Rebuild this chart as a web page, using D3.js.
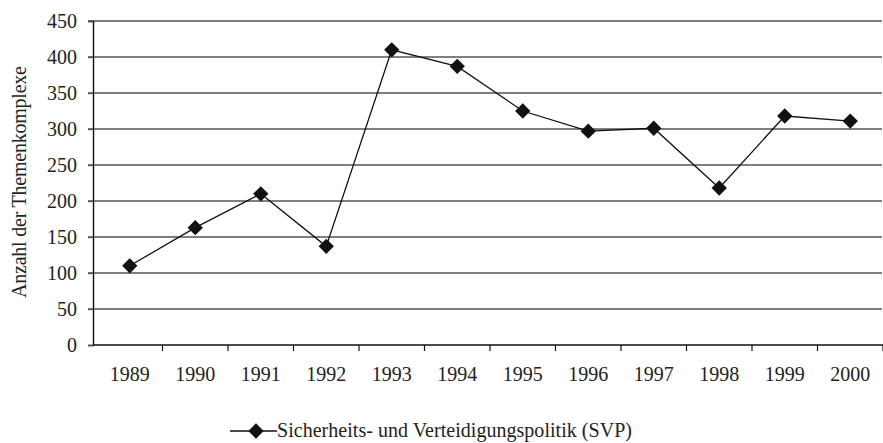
<!DOCTYPE html>
<html>
<head>
<meta charset="utf-8">
<script src="https://cdn.jsdelivr.net/npm/d3@7"></script>
<style>
  body { margin: 0; background: #fff; }
  text { font-family: "Liberation Serif", "DejaVu Serif", serif; fill: #222; }
</style>
</head>
<body>
<script>
var years = ['1989', '1990', '1991', '1992', '1993', '1994', '1995', '1996', '1997', '1998', '1999', '2000'];
var counts = [110, 163, 210, 137, 410, 387, 325, 297, 301, 218, 318, 311];
var yTicks = [0, 50, 100, 150, 200, 250, 300, 350, 400, 450];
var seriesName = 'Sicherheits- und Verteidigungspolitik (SVP)';
var yTitle = 'Anzahl der Themenkomplexe';

var width = 883;
var height = 443;
var axisX = 93;

var svg = d3.select('body').append('svg')
  .attr('width', width)
  .attr('height', height);

var x = d3.scaleBand().domain(years).range([97, 883]);
var y = d3.scaleLinear().domain([0, 450]).range([345, 21]);

// gridlines
svg.append('g').selectAll('line')
  .data(yTicks.slice(1))
  .enter().append('line')
  .attr('x1', axisX - 5)
  .attr('x2', 882)
  .attr('y1', function(d) { return y(d); })
  .attr('y2', function(d) { return y(d); })
  .style('stroke', '#555')
  .style('stroke-width', 1.4);

// y axis
var yAxis = svg.append('g')
  .attr('transform', 'translate(' + axisX + ',0)')
  .call(d3.axisLeft(y).tickValues(yTicks).tickSize(5).tickPadding(11));
yAxis.select('.domain').style('stroke', '#111').style('stroke-width', 1.4);
yAxis.selectAll('.tick line').style('stroke', '#555').style('stroke-width', 1.4);
yAxis.selectAll('text').style('font-size', '20px').style('font-family', '"Liberation Serif", serif').attr('fill', '#222');

// x axis
var xAxis = svg.append('g')
  .attr('transform', 'translate(0,' + y(0) + ')')
  .call(d3.axisBottom(x).tickSize(0).tickPadding(22));
xAxis.select('.domain').remove();
xAxis.selectAll('text').style('font-size', '20px').style('font-family', '"Liberation Serif", serif').attr('fill', '#222');

svg.append('line')
  .attr('x1', axisX).attr('x2', 883)
  .attr('y1', y(0)).attr('y2', y(0))
  .style('stroke', '#111').style('stroke-width', 1.4);

// ticks between categories
var bounds = years.map(function(d) { return x(d) + x.bandwidth(); });
svg.append('g').selectAll('line')
  .data(bounds)
  .enter().append('line')
  .attr('x1', function(d) { return d; })
  .attr('x2', function(d) { return d; })
  .attr('y1', y(0))
  .attr('y2', y(0) + 6)
  .style('stroke', '#111')
  .style('stroke-width', 1.2);

var cx = function(i) { return x(years[i]) + x.bandwidth() / 2; };

var line = d3.line()
  .x(function(d, i) { return cx(i); })
  .y(function(d) { return y(d); });

svg.append('path')
  .datum(counts)
  .attr('d', line)
  .style('fill', 'none')
  .style('stroke', '#111')
  .style('stroke-width', 1.3);

var diamond = d3.symbol().type(d3.symbolDiamond2).size(150);

svg.append('g').selectAll('path')
  .data(counts)
  .enter().append('path')
  .attr('d', diamond)
  .attr('transform', function(d, i) { return 'translate(' + cx(i) + ',' + y(d) + ')'; })
  .style('fill', '#111');

// y title
svg.append('text')
  .attr('transform', 'translate(26,182) rotate(-90)')
  .attr('text-anchor', 'middle')
  .attr('textLength', 232)
  .style('font-size', '20px')
  .text(yTitle);

// legend
var legend = svg.append('g').attr('transform', 'translate(0,431)');
legend.append('line')
  .attr('x1', 230).attr('x2', 277)
  .attr('y1', 0).attr('y2', 0)
  .style('stroke', '#111').style('stroke-width', 1.3);
legend.append('path')
  .attr('d', diamond)
  .attr('transform', 'translate(256,0)')
  .style('fill', '#111');
legend.append('text')
  .attr('x', 277)
  .attr('y', 6)
  .attr('textLength', 355)
  .style('font-size', '20px')
  .text(seriesName);
</script>
</body>
</html>
